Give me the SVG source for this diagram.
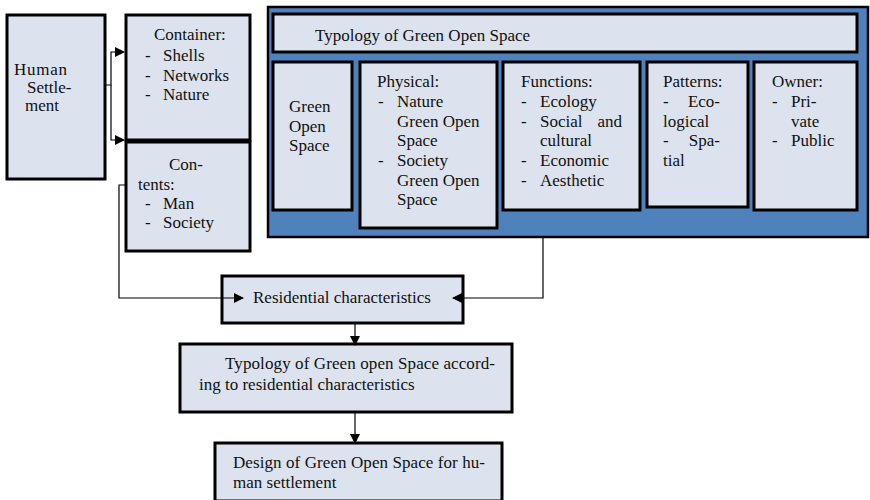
<svg xmlns="http://www.w3.org/2000/svg" width="870" height="500" viewBox="0 0 870 500">
<style>
.box{fill:#dce3ee;stroke:#000;stroke-width:3}
.blue{fill:#4f81bd;stroke:#000;stroke-width:2.5}
text{font-family:'Liberation Serif','Times New Roman',Times,'DejaVu Serif',serif;font-size:17px;fill:#111}
.c{text-anchor:middle}
.ln{fill:none;stroke:#000;stroke-width:1.2}
</style>
<defs>
<marker id="ah" markerWidth="10" markerHeight="10" refX="9" refY="5" orient="auto" markerUnits="userSpaceOnUse">
<path d="M0,0 L10,5 L0,10 z" fill="#000"/>
</marker>
</defs>
<g id="human">
<rect class="box" x="7" y="15" width="98" height="164"/>
<text x="14" y="75" textLength="53">Human</text>
<text x="27" y="93">Settle-</text>
<text x="25" y="111">ment</text>
</g>
<g id="container">
<rect class="box" x="126" y="15" width="124" height="125"/>
<text x="154" y="40">Container:</text>
<text x="145" y="61">-</text><text x="163" y="61">Shells</text>
<text x="145" y="81">-</text><text x="163" y="81">Networks</text>
<text x="145" y="100">-</text><text x="163" y="100">Nature</text>
</g>
<g id="contents">
<rect class="box" x="126" y="142" width="124" height="109"/>
<text class="c" x="186" y="170">Con-</text>
<text x="138" y="190">tents:</text>
<text x="145" y="209">-</text><text x="163" y="209">Man</text>
<text x="145" y="228">-</text><text x="163" y="228">Society</text>
</g>
<g id="typology">
<rect class="blue" x="268" y="7" width="600" height="230"/>
<rect class="box" x="273" y="14" width="584" height="38" stroke-width="2.5"/>
<text x="315" y="41">Typology of Green Open Space</text>
</g>
<g id="green-open-space">
<rect class="box" x="273" y="62" width="79" height="148"/>
<text x="289" y="112">Green</text>
<text x="289" y="132">Open</text>
<text x="289" y="151">Space</text>
</g>
<g id="physical">
<rect class="box" x="360" y="62" width="137" height="166"/>
<text x="377" y="87">Physical:</text>
<text x="378" y="107">-</text><text x="397" y="107">Nature</text>
<text x="397" y="127">Green Open</text>
<text x="397" y="146">Space</text>
<text x="378" y="166">-</text><text x="397" y="166">Society</text>
<text x="397" y="186">Green Open</text>
<text x="397" y="205">Space</text>
</g>
<g id="functions">
<rect class="box" x="503" y="62" width="137" height="148"/>
<text x="521" y="87">Functions:</text>
<text x="521" y="107">-</text><text x="540" y="107">Ecology</text>
<text x="521" y="127">-</text><text x="540" y="127">Social</text><text x="622" y="127" text-anchor="end">and</text>
<text x="540" y="146">cultural</text>
<text x="521" y="166">-</text><text x="540" y="166">Economic</text>
<text x="521" y="186">-</text><text x="540" y="186">Aesthetic</text>
</g>
<g id="patterns">
<rect class="box" x="647" y="62" width="101" height="145"/>
<text x="663" y="87">Patterns:</text>
<text x="663" y="107">-</text><text x="720" y="107" text-anchor="end">Eco-</text>
<text x="663" y="127">logical</text>
<text x="663" y="146">-</text><text x="720" y="146" text-anchor="end">Spa-</text>
<text x="663" y="166">tial</text>
</g>
<g id="owner">
<rect class="box" x="754" y="62" width="103" height="148"/>
<text x="772" y="87">Owner:</text>
<text x="772" y="107">-</text><text x="791" y="107">Pri-</text>
<text x="791" y="127">vate</text>
<text x="772" y="146">-</text><text x="791" y="146">Public</text>
</g>
<g id="residential">
<rect class="box" x="222" y="276" width="241" height="47"/>
<text x="253" y="303">Residential characteristics</text>
</g>
<g id="typology-residential">
<rect class="box" x="180" y="344" width="332" height="68"/>
<text x="225" y="369" textLength="270">Typology of Green open Space accord-</text>
<text x="199" y="390">ing to residential characteristics</text>
</g>
<g id="design">
<rect class="box" x="215" y="443" width="287" height="58"/>
<text x="233" y="468" textLength="252">Design of Green Open Space for hu-</text>
<text x="233" y="488">man settlement</text>
</g>
<g id="connectors">
<path class="ln" d="M105,85 H111 V52 H124" marker-end="url(#ah)"/>
<path class="ln" d="M111,85 V140 H124" marker-end="url(#ah)"/>
<path class="ln" d="M126,185 H119 V298 H243" marker-end="url(#ah)"/>
<path class="ln" d="M543,237 V298 H453" marker-end="url(#ah)"/>
<path class="ln" d="M355,323 V345" marker-end="url(#ah)"/>
<path class="ln" d="M355,412 V443" marker-end="url(#ah)"/>
</g>
</svg>
